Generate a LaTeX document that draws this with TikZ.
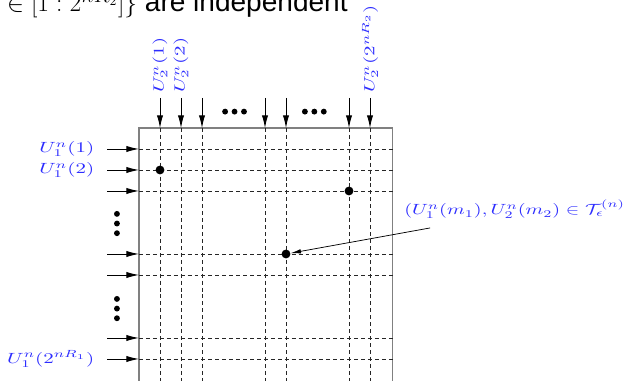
\documentclass[tikz,border=0pt]{standalone}
\usepackage{fontspec}
\setmainfont{Liberation Sans}
\usetikzlibrary{arrows.meta}
\definecolor{lblblue}{RGB}{45,45,255}
\newcommand{\wlbl}[1]{\scalebox{1.42}[1]{$#1$}}

\begin{document}
\begin{tikzpicture}[x=0.5cm, y=0.5cm,
    gridline/.style={dash pattern=on 2.7pt off 2pt, black!85, line width=0.5pt},
    boxline/.style={gray, line width=0.7pt},
    feed/.style={-{Latex[length=8.5pt,width=4.2pt]}, line width=0.6pt},
    lbl/.style={text=lblblue, inner sep=1pt},
    pt/.style={circle, fill=black, inner sep=0pt, minimum size=6pt}]
    \useasboundingbox (-7.619,-11.048) rectangle (22.333,7.095);
    \clip (-7.619,-11.048) rectangle (22.333,7.095);

    % line of text cut by the top edge
    \node[anchor=base east, inner sep=0pt, font=\fontsize{19}{22}\selectfont] (hdr) at (8.95,6.55)
        {$\in[1:2^{nR_2}]\}$ are independent};

    % codebook table
    \draw[boxline] (-1,-11.5) -- (-1,1) -- (11.08,1) -- (11.08,-11.5);
    \foreach \k in {0,1,2,5,6,9,10} {
        \draw[gridline] (-1,-\k) -- (11.08,-\k);
        \draw[gridline] (\k,1) -- (\k,-11.5);
    }

    % inputs from the top and from the left
    \foreach \k in {0,1,2,5,6,9,10} {
        \coordinate (top\k) at (\k,2.43);
        \coordinate (col\k) at (\k,1);
        \draw[feed] (top\k) -- (col\k);
        \coordinate (left\k) at (-2.52,-\k);
        \coordinate (row\k) at (-1,-\k);
        \draw[feed] (left\k) -- (row\k);
    }

    % dots
    \foreach \x in {3.55,7.35}
        \foreach \d in {-0.45,0,0.45}
            \fill (\x+\d,1.78) circle (0.14);
    \foreach \y in {-3.55,-7.6}
        \foreach \d in {-0.46,0,0.46}
            \fill (-2.05,\y+\d) circle (0.14);

    % codeword labels
    \node[lbl, anchor=east] (u11) at (-3.05,0) {\wlbl{U_1^n(1)}};
    \node[lbl, anchor=east] (u12) at (-3.05,-1) {\wlbl{U_1^n(2)}};
    \node[lbl, anchor=east] (u1N) at (-3.05,-10) {\wlbl{U_1^n(2^{nR_1})}};
    \node[lbl, rotate=90, anchor=west] (u21) at (0,2.6) {\wlbl{U_2^n(1)}};
    \node[lbl, rotate=90, anchor=west] (u22) at (1,2.6) {\wlbl{U_2^n(2)}};
    \node[lbl, rotate=90, anchor=west] (u2N) at (10,2.6) {\wlbl{U_2^n(2^{nR_2})}};

    % jointly typical pairs
    \node[pt] (p01) at (0,-1) {};
    \node[pt] (p92) at (9,-2) {};
    \node[pt] (p65) at (6,-5) {};

    \node[lbl, anchor=west] (typ) at (11.55,-2.86)
        {\scalebox{1.37}[1]{$(U_1^n(m_1), U_2^n(m_2) \in \mathcal{T}_\epsilon^{(n)}$}};
    \coordinate (tail) at (12.86,-3.76);
    \draw[-{Latex[length=7pt,width=3pt]}, line width=0.5pt] (tail) -- (p65);
\end{tikzpicture}
\end{document}
